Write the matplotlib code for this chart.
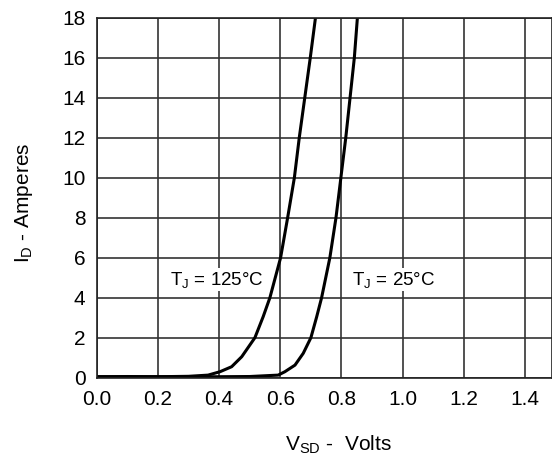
import matplotlib
matplotlib.use("Agg")
import matplotlib.pyplot as plt

plt.rcParams['font.family'] = ['Liberation Sans', 'DejaVu Sans']
plt.rcParams['mathtext.fontset'] = 'custom'
plt.rcParams['mathtext.rm'] = 'Liberation Sans'
plt.rcParams['mathtext.default'] = 'regular'

# Data
v125 = [0.0, 0.1, 0.2, 0.3, 0.364, 0.403, 0.441, 0.474, 0.517, 0.544, 0.566,
        0.601, 0.624, 0.646, 0.662, 0.680, 0.698, 0.715]
i125 = [0.05, 0.06, 0.05, 0.07, 0.13, 0.3, 0.55, 1.05, 2.0, 3.05, 4.0,
        6.0, 8.0, 10.0, 12.0, 14.0, 16.0, 18.0]

v25 = [0.0, 0.1, 0.2, 0.3, 0.4, 0.5, 0.593, 0.615, 0.648, 0.675, 0.700, 0.719,
       0.735, 0.762, 0.782, 0.798, 0.814, 0.828, 0.842, 0.852]
i25 = [0.05, 0.04, 0.05, 0.04, 0.05, 0.06, 0.13, 0.3, 0.63, 1.22, 2.0, 3.05,
       4.0, 6.0, 8.0, 10.0, 12.0, 14.0, 16.0, 18.0]

xticks = [0.0, 0.2, 0.4, 0.6, 0.8, 1.0, 1.2, 1.4]
xticklabels = ["0.0", "0.2", "0.4", "0.6", "0.8", "1.0", "1.2", "1.4"]
yticks = [0, 2, 4, 6, 8, 10, 12, 14, 16, 18]

label125 = r"T$_J$ = 125°C"
label25 = r"T$_J$ = 25°C"
xlabel = r"V$_{SD}$ -  Volts"
ylabel = r"I$_D$ - Amperes"

fig = plt.figure(figsize=(5.52, 4.63), dpi=100)
ax = fig.add_axes([0.1752, 0.1842, 0.8248, 0.7776])

ax.set_xlim(0, 1.488)
ax.set_ylim(0, 18)
ax.set_xticks(xticks)
ax.set_xticklabels(xticklabels)
ax.set_yticks(yticks)
ax.tick_params(length=0, labelsize=15, colors='black')
ax.tick_params(axis='y', pad=8)
ax.tick_params(axis='x', pad=9)

ax.grid(True, color='#333333', linewidth=1.2)
ax.set_axisbelow(True)
for s in ax.spines.values():
    s.set_color('#222222')
    s.set_linewidth(1.2)

ax.plot(v125, i125, color='black', linewidth=2.2, solid_joinstyle='round',
        solid_capstyle='round')
ax.plot(v25, i25, color='black', linewidth=2.2, solid_joinstyle='round',
        solid_capstyle='round')

ax.text(0.2395, 4.9, label125, fontsize=13.5, ha='left', va='center',
        bbox=dict(facecolor='white', edgecolor='none', pad=1))
ax.text(0.833, 4.9, label25, fontsize=13.5, ha='left', va='center',
        bbox=dict(facecolor='white', edgecolor='none', pad=1))

fig.text(338 / 552, 1 - 445 / 463, xlabel, fontsize=15, ha='center', va='center')
fig.text(24 / 552, 1 - 203 / 463, ylabel, fontsize=15, ha='center', va='center',
         rotation=90)

fig.savefig("out.png", dpi=100)
